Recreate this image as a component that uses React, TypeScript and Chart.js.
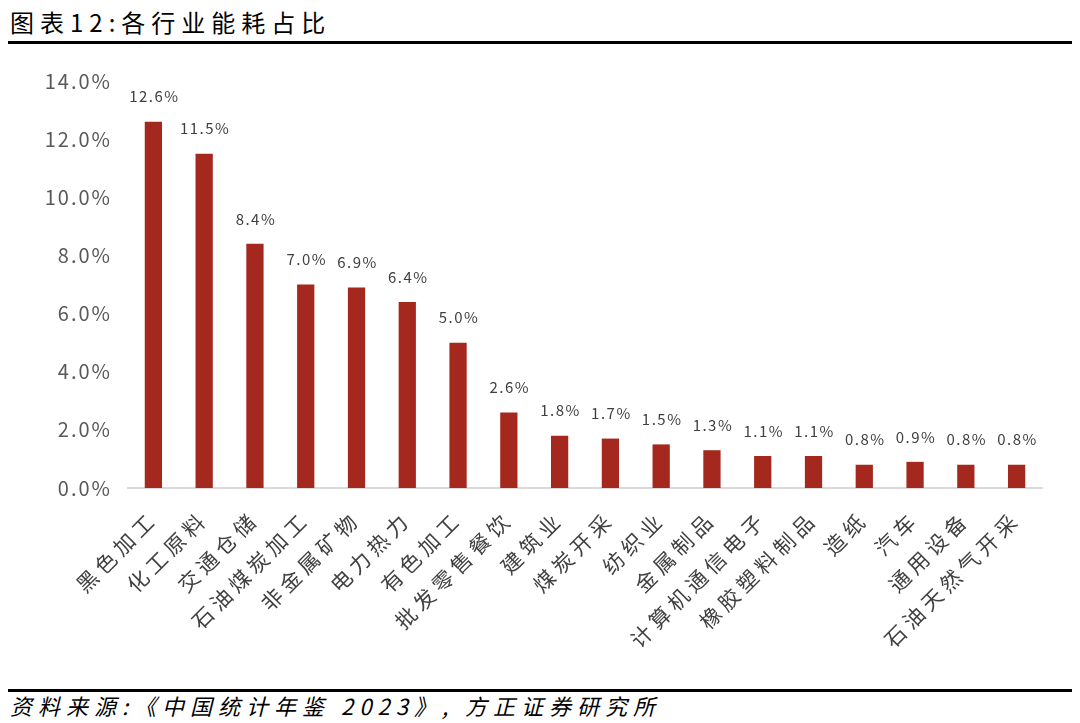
import React, { useEffect, useRef } from "react";
import { Chart, registerables } from "chart.js";

Chart.register(...registerables);

const categories = [
  "黑色加工", "化工原料", "交通仓储", "石油煤炭加工", "非金属矿物", "电力热力",
  "有色加工", "批发零售餐饮", "建筑业", "煤炭开采", "纺织业", "金属制品",
  "计算机通信电子", "橡胶塑料制品", "造纸", "汽车", "通用设备", "石油天然气开采",
];
const shares = [12.6, 11.5, 8.4, 7.0, 6.9, 6.4, 5.0, 2.6, 1.8, 1.7, 1.5, 1.3, 1.1, 1.1, 0.8, 0.9, 0.8, 0.8];
const yTicks = [0, 2, 4, 6, 8, 10, 12, 14];

const TITLE = "图表12:各行业能耗占比";
const SOURCE = "资料来源:《中国统计年鉴 2023》, 方正证券研究所";
const FONT = "'Noto Sans CJK SC', 'Noto Sans', sans-serif";

function withSpacing(scale: any, spacing: string) {
  if (scale.__spaced) return;
  const orig = scale.drawLabels.bind(scale);
  scale.drawLabels = (area: any) => {
    const ctx = scale.ctx;
    ctx.save();
    ctx.letterSpacing = spacing;
    orig(area);
    ctx.restore();
  };
  scale.__spaced = true;
}

const spacingPlugin = {
  id: "spacing",
  beforeDraw(chart: any) {
    withSpacing(chart.scales.x, "5px");
    withSpacing(chart.scales.y, "2px");
  },
};

const labelPlugin = {
  id: "barLabels",
  afterDatasetsDraw(chart: any) {
    const ctx = chart.ctx;
    const meta = chart.getDatasetMeta(0);
    ctx.save();
    ctx.font = `15px ${FONT}`;
    ctx.letterSpacing = "1.5px";
    ctx.fillStyle = "#404040";
    ctx.textAlign = "center";
    ctx.textBaseline = "middle";
    meta.data.forEach((bar: any, i: number) => {
      ctx.fillText(shares[i].toFixed(1) + "%", bar.x + 1, bar.y - 25);
    });
    ctx.restore();
  },
};

export default function App() {
  const ref = useRef<HTMLCanvasElement | null>(null);
  useEffect(() => {
    if (!ref.current) return;
    const chart = new Chart(ref.current, {
      type: "bar",
      data: {
        labels: categories,
        datasets: [
          {
            data: shares,
            backgroundColor: "#A5281E",
            barPercentage: 0.34,
            categoryPercentage: 1,
          },
        ],
      },
      options: {
        responsive: false,
        animation: false,
        layout: { padding: { top: 31, right: 38, left: 0, bottom: 0 } },
        plugins: { legend: { display: false }, tooltip: { enabled: false } },
        scales: {
          y: {
            min: yTicks[0],
            max: yTicks[yTicks.length - 1],
            afterBuildTicks: (s: any) => {
              s.ticks = yTicks.map((v) => ({ value: v }));
            },
            ticks: {
              callback: (v: any) => Number(v).toFixed(1) + "%",
              font: { size: 20, family: FONT },
              color: "#595959",
              padding: 16,
            },
            grid: { display: false, drawTicks: false },
            border: { display: false },
            afterFit: (s: any) => {
              s.width = 128;
            },
          },
          x: {
            grid: { display: false, drawTicks: false },
            border: { display: true, color: "#D9D9D9", width: 2 },
            ticks: {
              maxRotation: 45,
              minRotation: 45,
              autoSkip: false,
              font: { size: 21, family: FONT },
              color: "#404040",
              padding: 18,
            },
            afterFit: (s: any) => {
              s.height = 192;
            },
          },
        },
      },
      plugins: [spacingPlugin, labelPlugin],
    });
    return () => chart.destroy();
  }, []);

  return (
    <div style={{ position: "absolute", left: 0, top: 0, width: 1080, height: 723, background: "#fff", overflow: "hidden" }}>
      <div
        style={{
          position: "absolute",
          left: 10,
          top: 6,
          fontFamily: FONT,
          fontSize: 24,
          lineHeight: "32px",
          letterSpacing: 6,
          color: "#000",
          whiteSpace: "nowrap",
        }}
      >
        {TITLE}
      </div>
      <div style={{ position: "absolute", left: 8, top: 41, width: 1064, height: 3, background: "#000" }} />
      <canvas ref={ref} width={1080} height={630} style={{ position: "absolute", left: 0, top: 50, width: 1080, height: 630 }} />
      <div style={{ position: "absolute", left: 8, top: 689, width: 1064, height: 3, background: "#000" }} />
      <div
        style={{
          position: "absolute",
          left: 10,
          top: 691,
          fontFamily: FONT,
          fontSize: 22,
          lineHeight: "28px",
          fontStyle: "italic",
          letterSpacing: 6,
          color: "#000",
          whiteSpace: "nowrap",
        }}
      >
        {SOURCE}
      </div>
    </div>
  );
}
